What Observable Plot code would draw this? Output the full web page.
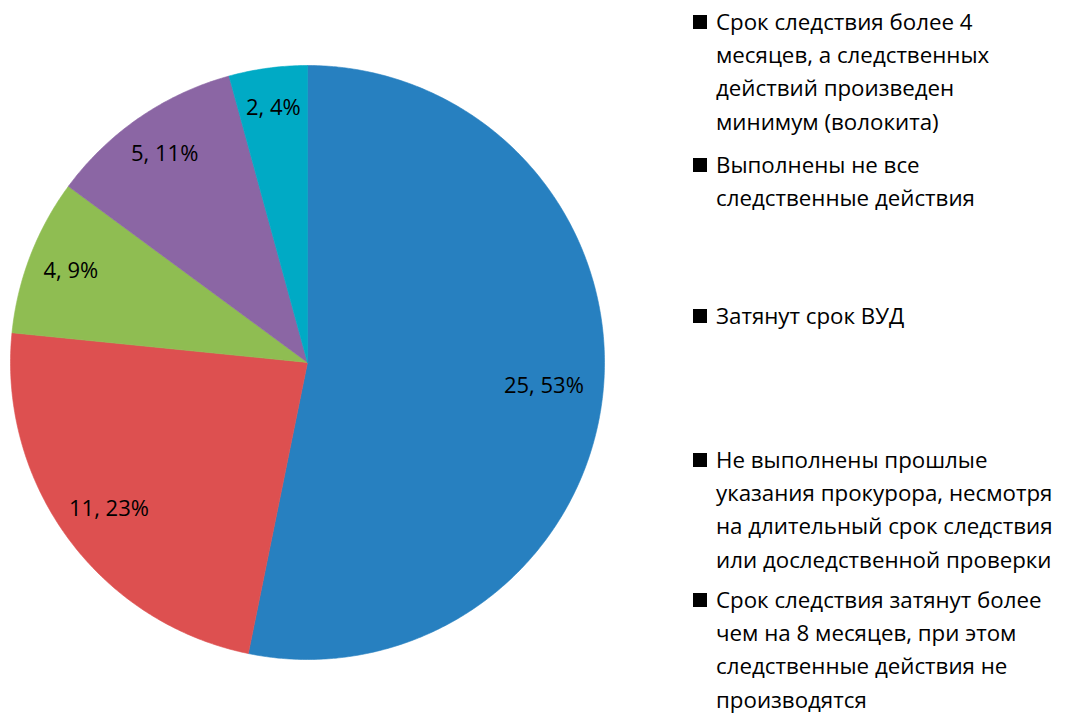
<!DOCTYPE html>
<html>
<head>
<meta charset="utf-8">
<script src="https://cdn.jsdelivr.net/npm/d3@7"></script>
<script src="https://cdn.jsdelivr.net/npm/@observablehq/plot@0.6"></script>
<style>
  html, body { margin: 0; padding: 0; background: #fff; }
  #wrap { position: relative; width: 1067px; height: 716px; overflow: hidden; font-family: "Open Sans", sans-serif; }
  #chart { position: absolute; left: 0; top: 0; }
  .item { position: absolute; left: 693px; font-size: 22.3px; line-height: 33.2px; color: #000; }
  .item .sw { position: absolute; left: 0; top: 10px; width: 14px; height: 14px; background: #000; }
  .item .tx { margin-left: 23px; white-space: nowrap; }
</style>
</head>
<body>
<div id="wrap">
  <div id="chart"></div>
  <div id="legend"></div>
</div>
<script>
const categories = [
  "Срок следствия более 4 месяцев, а следственных действий произведен минимум (волокита)",
  "Не выполнены прошлые указания прокурора, несмотря на длительный срок следствия или доследственной проверки",
  "Затянут срок ВУД",
  "Выполнены не все следственные действия",
  "Срок следствия затянут более чем на 8 месяцев, при этом следственные действия не производятся"
];
const values = [25, 11, 4, 5, 2];
const percents = [53, 23, 9, 11, 4];
const colors = ["#2780C0", "#DD5050", "#8FBD52", "#8B66A4", "#00AAC5"];
// legend order as displayed, with line breaks
const legendLines = [
  ["Срок следствия более 4", "месяцев, а следственных", "действий произведен", "минимум (волокита)"],
  ["Выполнены не все", "следственные действия"],
  ["Затянут срок ВУД"],
  ["Не выполнены прошлые", "указания прокурора, несмотря", "на длительный срок следствия", "или доследственной проверки"],
  ["Срок следствия затянут более", "чем на 8 месяцев, при этом", "следственные действия не", "производятся"]
];
const legendTops = [5, 148, 299, 443, 583];

// layout
const W = 620, H = 716, cx = 307, cy = 362, R = 297;

const total = d3.sum(values);
const maxV = d3.max(values);
const pts = [];
const labels = [];
let acc = 0;
values.forEach((v, i) => {
  const a0 = acc / total * 2 * Math.PI;
  const a1 = (acc + v) / total * 2 * Math.PI;
  pts.push({x: 0, y: 0, cat: categories[i]});
  const n = Math.max(2, Math.ceil((a1 - a0) / (Math.PI / 360)));
  for (let k = 0; k <= n; k++) {
    const a = a0 + (a1 - a0) * k / n;
    pts.push({x: Math.sin(a), y: Math.cos(a), cat: categories[i]});
  }
  pts.push({x: 0, y: 0, cat: categories[i]});
  const am = (a0 + a1) / 2;
  // best-fit style: smaller slices push their label further out
  const lr = 0.8 + 0.09 * (1 - Math.sqrt(v / maxV));
  labels.push({x: lr * Math.sin(am), y: lr * Math.cos(am), text: `${v}, ${percents[i]}%`});
  acc += v;
});

const plot = Plot.plot({
  width: W,
  height: H,
  margin: 0,
  x: {domain: [-cx / R, (W - cx) / R], range: [0, W], axis: null},
  y: {domain: [-(H - cy) / R, cy / R], range: [H, 0], axis: null},
  color: {domain: categories, range: colors},
  style: {fontFamily: "'Open Sans', sans-serif", background: "transparent"},
  marks: [
    Plot.line(pts, {x: "x", y: "y", z: "cat", fill: "cat", stroke: "cat", strokeWidth: 0.6, curve: "linear-closed"}),
    Plot.text(labels, {x: "x", y: "y", text: "text", fontSize: 22, fill: "#000"})
  ]
});
document.getElementById("chart").appendChild(plot);

const leg = document.getElementById("legend");
legendLines.forEach((lines, i) => {
  const d = document.createElement("div");
  d.className = "item";
  d.style.top = legendTops[i] + "px";
  d.innerHTML = `<div class="sw"></div><div class="tx">${lines.join("<br>")}</div>`;
  leg.appendChild(d);
});
</script>
</body>
</html>
